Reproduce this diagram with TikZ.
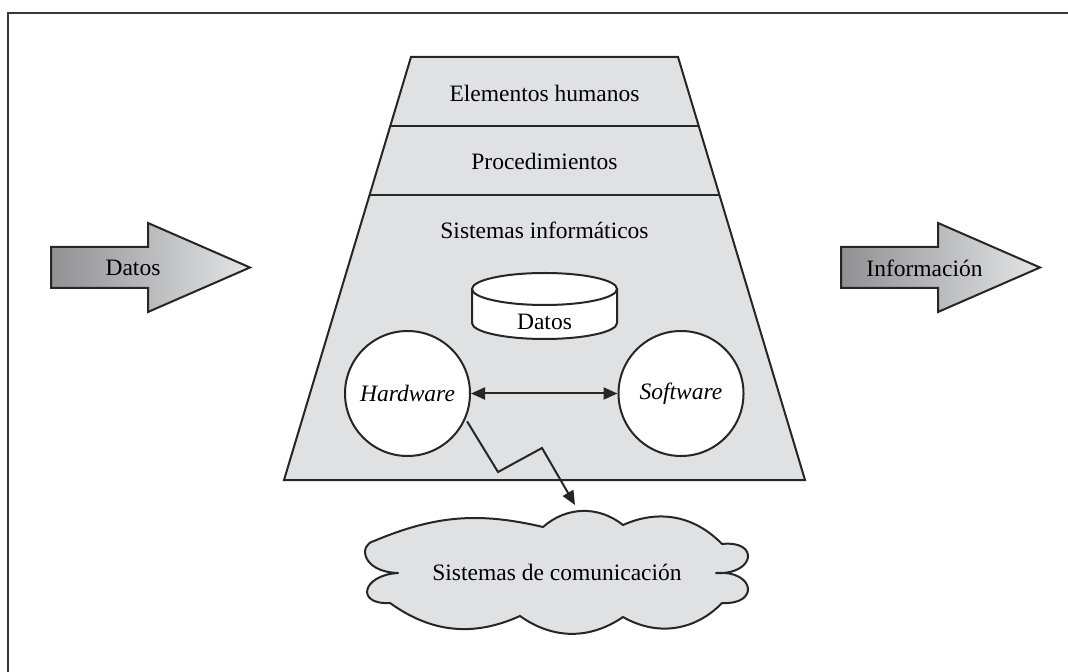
\documentclass[tikz,border=0pt]{standalone}
\usepackage{fontspec}
\setmainfont{Liberation Serif}
\usetikzlibrary{arrows.meta,calc}
\definecolor{panel}{RGB}{224,225,227}
\definecolor{framec}{RGB}{55,55,55}
\definecolor{arrdark}{RGB}{145,145,147}
\definecolor{arrlight}{RGB}{228,229,231}
\tikzset{
  lbl/.style={font=\fontsize{11.75}{14}\selectfont, inner sep=0pt},
  outline/.style={draw=black!85, line width=1pt},
  unit/.style={circle, outline, fill=white, minimum size=62.5pt, inner sep=0pt, font=\fontsize{11.75}{14}\selectfont\itshape},
  bigarrow/.style={outline, left color=arrdark, right color=arrlight},
  tip/.style={-{Triangle[length=7pt,width=6pt]}},
}
\begin{document}
\begin{tikzpicture}[x=0.5pt,y=-0.5pt]
\useasboundingbox (0,0) rectangle (1068,672);
% frame
\draw[framec, line width=1.4pt] (8,700) -- (8,13) -- (1100,13);

% input / output arrows
\shade[bigarrow] (51,247) -- (148,247) -- (148,223) -- (250,267.5) -- (148,312) -- (148,288) -- (51,288) -- cycle;
\node[lbl] (datosin) at (133,268) {Datos};
\shade[bigarrow] (841,247) -- (938,247) -- (938,223) -- (1040,267.5) -- (938,312) -- (938,288) -- (841,288) -- cycle;
\node[lbl] (info) at (924.5,268) {Información};

% trapezoid
\coordinate (tl) at (411,57);
\coordinate (tr) at (678,57);
\coordinate (br) at (805,480);
\coordinate (bl) at (284,480);
\draw[outline, fill=panel] (tl) -- (tr) -- (br) -- (bl) -- cycle;
\draw[outline] ($(tl)!0.1631!(bl)$) -- ($(tr)!0.1631!(br)$);
\draw[outline] ($(tl)!0.3262!(bl)$) -- ($(tr)!0.3262!(br)$);
\node[lbl] (hum) at (544.5,93) {Elementos humanos};
\node[lbl] (proc) at (544.5,161) {Procedimientos};
\node[lbl] (sist) at (544.5,230) {Sistemas informáticos};

% database cylinder
\draw[outline, fill=white] (472,289) -- (472,323) arc[start angle=180, end angle=360, x radius=36.25pt, y radius=8pt] -- (617,289);
\draw[outline, fill=white] (544.5,289) ellipse[x radius=36.25pt, y radius=8pt];
\node[lbl] (db) at (544.5,322) {Datos};

% hardware / software
\node[unit] (hw) at (407.5,393.5) {Hardware};
\node[unit] (sw) at (681,393.5) {Software};
\draw[outline, {Triangle[length=7pt,width=6pt]}-{Triangle[length=7pt,width=6pt]}] (hw) -- (sw);

% communication cloud
\draw[outline, fill=panel, line join=round]
  (374,541) to[bend left=18] (543,527)
            to[bend left=40] (623,525)
            to[bend left=35] (722,544)
            .. controls (760,540) and (755,575) .. (716,573)
            .. controls (755,570) and (760,605) .. (722,603)
            to[bend left=38] (623,617)
            to[bend left=35] (520,616)
            to[bend left=30] (390,603)
            .. controls (355,605) and (362,575) .. (398,573)
            .. controls (362,572) and (358,545) .. cycle;
\node[lbl] (com) at (557,572) {Sistemas de comunicación};

% lightning link
\coordinate (z1) at (498,472);
\coordinate (z2) at (542,448);
\coordinate (zend) at (575,505);
\draw[outline, tip] ($(hw.-25)+(2,1)$) -- (z1) -- (z2) -- (zend);
\end{tikzpicture}
\end{document}
